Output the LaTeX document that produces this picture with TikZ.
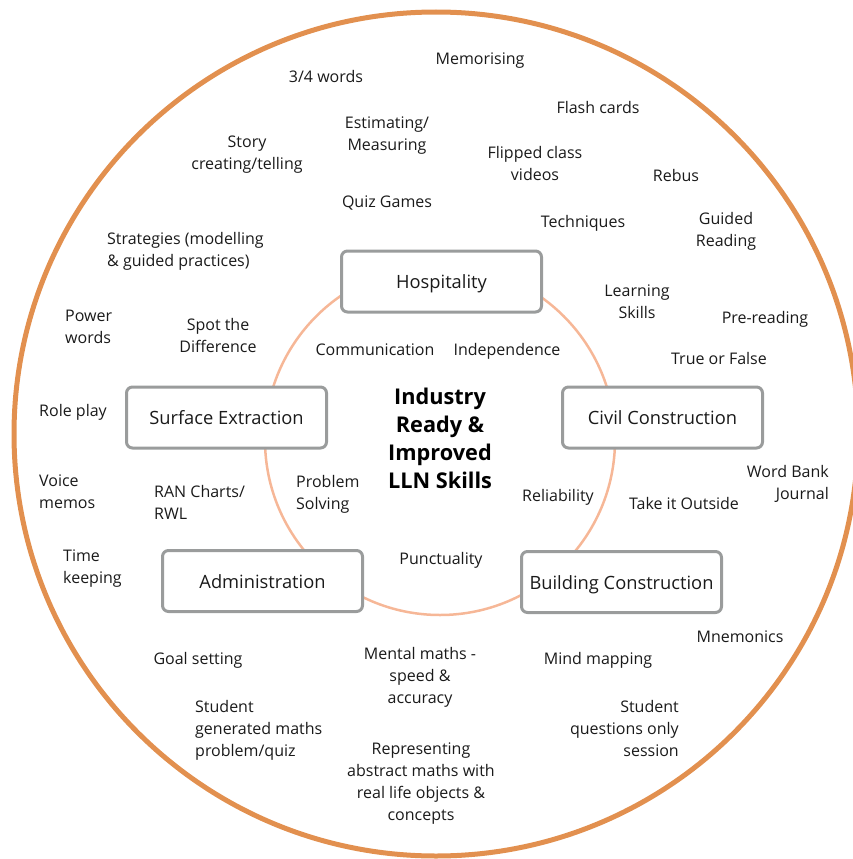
\documentclass[tikz,border=0pt]{standalone}
\usepackage{fontspec}
\setmainfont{Open Sans}
\definecolor{outerring}{HTML}{E2904F}
\definecolor{innerring}{HTML}{F6B797}
\definecolor{boxgray}{HTML}{9A9C9C}
\definecolor{txt}{HTML}{1A1A1A}
\begin{document}
\begin{tikzpicture}[x=1pt,y=-1pt,
  lbl/.style={font=\fontsize{16}{22}\selectfont, text=txt, inner sep=0pt, align=center,
    execute at begin node=\strut, execute at end node=\strut},
  lleft/.style={lbl, align=left, anchor=west},
  lright/.style={lbl, align=right, anchor=east},
  catbox/.style={draw=boxgray, line width=3pt, rounded corners=6pt, fill=white,
    font=\fontsize{18.3}{22}\selectfont, text=txt, minimum width=200pt,
    minimum height=61pt, inner sep=0pt, text height=14pt, text depth=0pt}]
\useasboundingbox (0,0) rectangle (853,859);
\draw[outerring, line width=5pt] (436,434) circle[radius=422pt];
\draw[innerring, line width=2.5pt] (440,440) circle[radius=175pt];

% category boxes
\node[catbox] (hosp) at (441.5,281.5) {Hospitality};
\node[catbox] (surf) at (226.5,417.5) {Surface Extraction};
\node[catbox] (civil) at (662.5,417.5) {Civil Construction};
\node[catbox] (admin) at (262.5,581) {Administration};
\node[catbox] (build) at (621.5,582) {Building Construction};

% centre
\node[font=\fontsize{21.7}{28}\selectfont\bfseries, text=black, align=center, inner sep=0pt]
  (centre) at (440,438) {Industry\\Ready \&\\Improved\\LLN Skills};

\begin{scope}[yshift=-3pt]
% inner labels
\node[lbl] (comm) at (375,348) {Communication};
\node[lbl] (indep) at (507,348) {Independence};
\node[lleft] (prob) at (296,493) {Problem\\Solving};
\node[lbl] (reli) at (558,494) {Reliability};
\node[lbl] (punct) at (441,557) {Punctuality};

% outer labels
\node[lbl] (w34) at (326,75) {3/4 words};
\node[lbl] (memo) at (480,57) {Memorising};
\node[lbl] (flash) at (598,106) {Flash cards};
\node[lbl] (story) at (247,153) {Story\\creating/telling};
\node[lbl] (estim) at (387,134) {Estimating/\\Measuring};
\node[lbl] (flip) at (535,164) {Flipped class\\videos};
\node[lbl] (rebus) at (676,174) {Rebus};
\node[lbl] (quiz) at (387,200) {Quiz Games};
\node[lbl] (tech) at (583,220) {Techniques};
\node[lbl] (guided) at (726,230) {Guided\\Reading};
\node[lleft] (strat) at (107,250) {Strategies (modelling\\\& guided practices)};
\node[lleft] (power) at (65,327) {Power\\words};
\node[lbl] (spot) at (218,336) {Spot the\\Difference};
\node[lbl] (learn) at (637,302) {Learning\\Skills};
\node[lbl] (pre) at (765,316) {Pre-reading};
\node[lbl] (truef) at (719,357) {True or False};
\node[lbl] (role) at (73,409) {Role play};
\node[lleft] (voice) at (39,492) {Voice\\memos};
\node[lleft] (ran) at (154,503) {RAN Charts/\\RWL};
\node[lbl] (outside) at (684,502) {Take it Outside};
\node[lright] (wordb) at (829,483) {Word Bank\\Journal};
\node[lleft] (time) at (63,567) {Time\\keeping};
\node[lbl] (mnem) at (740,635) {Mnemonics};
\node[lbl] (goal) at (198,657) {Goal setting};
\node[lbl] (mind) at (598,657) {Mind mapping};
\node[lbl] (mental) at (420,676) {Mental maths -\\speed \&\\accuracy};
\node[lleft] (stugen) at (195,729) {Student\\generated maths\\problem/quiz};
\node[lright] (stuq) at (679,729) {Student\\questions only\\session};
\node[lbl] (repr) at (421,782) {Representing\\abstract maths with\\real life objects \&\\concepts};
\end{scope}
\end{tikzpicture}
\end{document}
